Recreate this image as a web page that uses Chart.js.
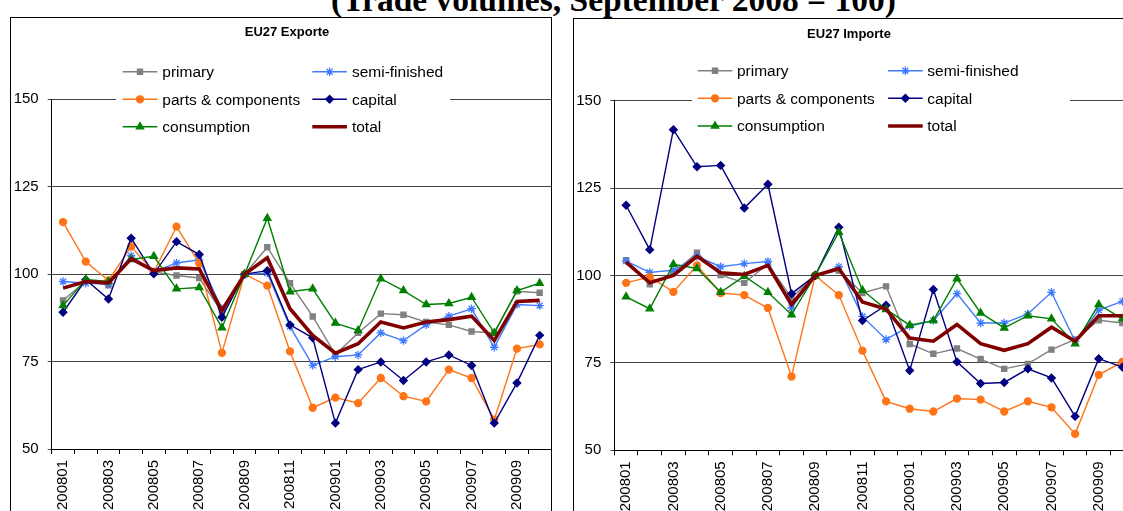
<!DOCTYPE html>
<html>
<head>
<meta charset="utf-8">
<script src="https://cdn.jsdelivr.net/npm/chart.js@4.4.1/dist/chart.umd.min.js"></script>
<style>
  html, body { margin:0; padding:0; background:#fff; width:1123px; height:511px; overflow:hidden; position:relative; }
  .box { position:absolute; border:1px solid #000; box-sizing:border-box; background:#fff; }
  .box canvas { position:absolute; left:0; top:0; }
  .ctitle { position:absolute; font:bold 13px 'Liberation Sans', Arial, sans-serif; transform:translate(-50%,-50%); white-space:nowrap; }
  #mainTitle { position:absolute; left:331px; top:-17px; font:bold 33.5px 'Liberation Serif', 'Times New Roman', serif; line-height:33px; white-space:nowrap; }
</style>
</head>
<body>
<div id="mainTitle">(Trade volumes, September 2008 = 100)</div>
<div class="box" style="left:10px;top:17px;width:542px;height:520px;"><canvas id="c1" width="540" height="518"></canvas></div>
<div class="box" style="left:573px;top:18px;width:564px;height:520px;"><canvas id="c2" width="562" height="518"></canvas></div>
<div class="ctitle" style="left:287px;top:31px;">EU27 Exporte</div>
<div class="ctitle" style="left:849px;top:33px;">EU27 Importe</div>
<script>
// ---- data ----
const months = ['200801','200802','200803','200804','200805','200806','200807','200808','200809','200810','200811','200812',
                '200901','200902','200903','200904','200905','200906','200907','200908','200909','200910'];
const seriesNames = ['primary','semi-finished','parts & components','capital','consumption','total'];

// EU27 Exporte
const expPrimary     = [92.5, 98.0, 96.8, 104.6, 100.6, 99.6, 98.9, 89.1, 100, 107.7, 97.4, 87.9, 77.0, 83.2, 88.7, 88.4, 86.3, 85.5, 83.6, 83.2, 95.1, 94.7];
const expSemi        = [97.9, 97.4, 97.2, 105.3, 100.7, 103.2, 104.1, 90.1, 100, 100.3, 85.0, 73.9, 76.4, 76.9, 83.2, 81.0, 85.5, 88.0, 90.1, 79.1, 91.3, 91.0];
const expParts       = [114.9, 103.6, 98.2, 107.9, 100.6, 113.6, 103.1, 77.5, 100, 96.7, 77.9, 61.8, 64.7, 63.1, 70.3, 65.1, 63.6, 72.7, 70.3, 58.4, 78.7, 79.9];
const expCapital     = [89.1, 98.4, 92.9, 110.3, 100.1, 109.3, 105.6, 87.7, 100, 101.0, 85.5, 81.8, 57.4, 72.7, 74.9, 69.6, 74.9, 76.9, 73.9, 57.4, 68.9, 82.5];
const expConsumption = [91.0, 98.5, 97.9, 104.2, 105.1, 95.8, 96.2, 84.7, 100, 116.0, 95.0, 95.8, 86.0, 83.9, 98.7, 95.3, 91.3, 91.6, 93.4, 83.2, 95.3, 97.4];
const expTotal       = [96.0, 97.9, 97.5, 104.4, 101.0, 101.8, 101.5, 89.6, 100, 104.7, 90.1, 82.5, 77.4, 80.1, 86.3, 84.6, 86.3, 87.0, 88.0, 81.0, 92.2, 92.5];

// EU27 Importe
const impPrimary     = [104.4, 97.5, 100.7, 106.5, 100.1, 97.9, 103.2, 93.6, 100, 101.4, 95.0, 96.9, 80.4, 77.6, 79.1, 76.1, 73.3, 74.7, 78.8, 81.7, 87.2, 86.4];
const impSemi        = [104.1, 100.9, 101.5, 105.5, 102.5, 103.4, 104.0, 90.7, 100, 102.5, 88.3, 81.7, 85.5, 87.1, 94.8, 86.4, 86.4, 89.0, 95.2, 81.2, 90.1, 92.6];
const impParts       = [97.9, 99.6, 95.3, 102.9, 95.0, 94.4, 90.7, 71.1, 100, 94.4, 78.5, 64.0, 61.9, 61.1, 64.8, 64.5, 61.1, 64.0, 62.3, 54.7, 71.6, 75.3];
const impCapital     = [120.1, 107.4, 141.7, 131.1, 131.5, 119.3, 126.1, 94.8, 100, 113.8, 87.1, 91.5, 72.8, 96.0, 75.3, 69.1, 69.4, 73.3, 70.7, 59.7, 76.2, 73.8];
const impConsumption = [93.9, 90.5, 103.2, 102.0, 95.2, 99.8, 95.2, 88.8, 100, 112.4, 95.8, 90.3, 85.8, 87.1, 99.1, 89.3, 85.0, 88.5, 87.6, 80.5, 91.7, 87.6];
const impTotal       = [103.8, 97.9, 100.0, 105.5, 100.8, 100.3, 102.9, 91.7, 100, 102.0, 92.4, 90.4, 82.1, 81.2, 86.0, 80.5, 78.6, 80.5, 85.2, 81.2, 88.5, 88.5];

const yTicks = [50, 75, 100, 125, 150];

// ---- styles ----
const styles = [
  { color:'#808080', pointStyle:'rect',    radius:3.6, width:1.4, order:6 },
  { color:'#3F7BFF', pointStyle:'star',    radius:4.2, width:1.4, order:5 },
  { color:'#FF7417', pointStyle:'circle',  radius:3.5, width:1.4, order:4 },
  { color:'#000080', pointStyle:'rectRot', radius:3.8, width:1.4, order:3 },
  { color:'#008000', pointStyle:'triangle',radius:4.2, width:1.4, order:2 },
  { color:'#800000', pointStyle:false,     radius:0,   width:3.6, order:1 }
];

Chart.defaults.font.family = "'Liberation Sans', Arial, sans-serif";
Chart.defaults.color = '#000';

const gridLegend = {
  id:'gridLegend',
  afterDraw(chart, args, o) {
    const ctx = chart.ctx;
    ctx.save();
    ctx.fillStyle = '#fff';
    ctx.fillRect(o.box[0], o.box[1], o.box[2]-o.box[0], o.box[3]-o.box[1]);
    chart.data.datasets.forEach((ds, i) => {
      const x0 = o.cols[i % 2], y = o.rows[Math.floor(i / 2)];
      ctx.strokeStyle = ds.borderColor;
      ctx.lineWidth = ds.borderWidth;
      ctx.beginPath(); ctx.moveTo(x0, y); ctx.lineTo(x0 + o.sample, y); ctx.stroke();
      if (ds.pointRadius > 0) {
        ctx.fillStyle = ds.pointBackgroundColor;
        ctx.strokeStyle = ds.pointBorderColor;
        ctx.lineWidth = ds.pointBorderWidth;
        Chart.helpers.drawPoint(ctx, {pointStyle:ds.pointStyle, radius:ds.pointRadius, borderWidth:ds.pointBorderWidth, rotation:0}, x0 + o.sample/2, y);
      }
      ctx.fillStyle = '#000';
      ctx.font = "15.5px 'Liberation Sans', Arial, sans-serif";
      ctx.textBaseline = 'middle';
      ctx.textAlign = 'left';
      ctx.fillText(ds.label, x0 + o.sample + o.gap, y + 1);
    });
    ctx.restore();
  }
};

function makeDatasets(arrs) {
  return arrs.map((d, i) => ({
    label: seriesNames[i],
    data: d,
    borderColor: styles[i].color,
    backgroundColor: styles[i].color,
    borderWidth: styles[i].width,
    pointStyle: styles[i].pointStyle,
    pointRadius: styles[i].radius,
    pointHoverRadius: styles[i].radius,
    pointBackgroundColor: styles[i].color,
    pointBorderColor: styles[i].color,
    pointBorderWidth: 1.3,
    tension: 0,
    fill: false,
    order: styles[i].order
  }));
}

function makeChart(id, arrs, yw, xh, padTop, padRight, legend) {
  return new Chart(document.getElementById(id), {
    type:'line',
    data:{ labels: months, datasets: makeDatasets(arrs) },
    plugins:[gridLegend],
    options:{
      responsive:false,
      animation:false,
      layout:{ autoPadding:false, padding:{ top:padTop, left:0, right:padRight, bottom:0 } },
      plugins:{ legend:{display:false}, title:{display:false}, tooltip:{enabled:false}, gridLegend: legend },
      scales:{
        x:{
          type:'category',
          offset:true,
          grid:{ display:true, drawOnChartArea:false, offset:true, tickLength:5, color:'#000', lineWidth:1 },
          border:{ color:'#000', width:1 },
          ticks:{ autoSkip:false, maxRotation:90, minRotation:90, color:'#000', font:{size:15}, padding:6,
                  callback:(v, i) => (i % 2 === 0 ? months[i] : '') },
          afterFit(s){ s.height = xh; s.paddingLeft = 0; s.paddingRight = 0; }
        },
        y:{
          min: yTicks[0], max: yTicks[yTicks.length-1],
          afterBuildTicks(s){ s.ticks = yTicks.map(v => ({value:v})); },
          grid:{ color:'#444', tickLength:4, lineWidth:1 },
          border:{ color:'#000', width:1 },
          ticks:{ color:'#000', font:{size:15}, padding:9 },
          afterFit(s){ s.width = yw; s.paddingTop = 0; s.paddingBottom = 0; }
        }
      }
    }
  });
}

makeChart('c1', [expPrimary, expSemi, expParts, expCapital, expConsumption, expTotal], 40.7, 87, 81.3, 0,
  { box:[105, 40, 439, 123], cols:[111.7, 301.3], rows:[53.7, 81.3, 108.7], sample:34.6, gap:5 });
makeChart('c2', [impPrimary, impSemi, impParts, impCapital, impConsumption, impTotal], 40.3, 86.7, 81.7, 1.8,
  { box:[118, 38, 496, 121], cols:[123.7, 314.1], rows:[51.8, 79.3, 107], sample:34.6, gap:4.6 });
</script>
</body>
</html>
